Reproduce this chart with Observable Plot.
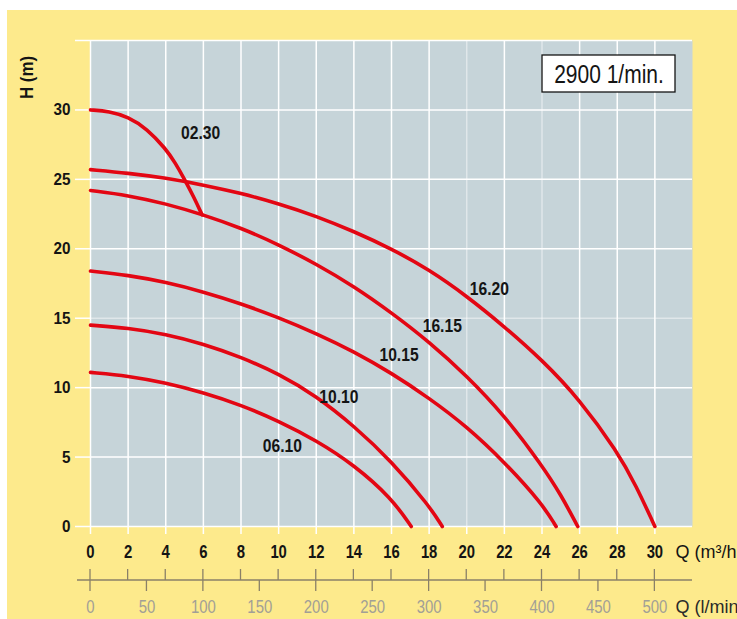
<!DOCTYPE html>
<html><head><meta charset="utf-8">
<script src="https://cdn.jsdelivr.net/npm/d3@7"></script>
<script src="https://cdn.jsdelivr.net/npm/@observablehq/plot@0.6"></script>
<style>
html,body{margin:0;padding:0;background:#fff;overflow:hidden}
#wrap{position:relative;width:737px;height:619px;background:#fdea8c;box-shadow:inset 7px 10px 0 #fff;overflow:hidden}
#wrap svg{background:transparent !important;overflow:hidden !important;display:block}
</style></head><body><div id="wrap"></div>
<script>
// ---- data (Q in m³/h, H in m) ----
const curve0230 = [[0,30],[1,29.9],[2,29.5],[3,28.65],[4,27.2],[4.5,26.2],[5,25.0],[5.5,23.7],[5.93,22.45]];
const curve1620 = [[0,25.7],[2,25.45],[4,25.1],[6,24.6],[8,24.0],[10,23.25],[12,22.35],[14,21.25],[16,20.0],[18,18.5],[20,16.6],[22,14.4],[24,12.0],[26,9.15],[28,5.4],[29,2.95],[30,0]];
const curve1615 = [[0,24.2],[2,23.85],[4,23.25],[6,22.45],[8,21.5],[10,20.3],[12,18.9],[14,17.3],[16,15.4],[18,13.3],[20,10.85],[22,8.0],[24,4.4],[25,2.3],[25.9,0]];
const curve1015 = [[0,18.4],[2,18.1],[4,17.6],[6,16.9],[8,16.05],[10,15.05],[12,13.9],[14,12.6],[16,11.05],[18,9.25],[20,7.2],[22,4.65],[24,1.65],[24.75,0]];
const curve1010 = [[0,14.5],[2,14.3],[4,13.85],[6,13.15],[8,12.2],[10,11.0],[12,9.4],[14,7.25],[16,4.7],[18,1.5],[18.7,0]];
const curve0610 = [[0,11.1],[2,10.85],[4,10.35],[6,9.65],[8,8.75],[10,7.6],[12,6.2],[14,4.45],[16,2.05],[17.05,0]];

const pumpNames = ["02.30","16.20","16.15","10.15","10.10","06.10"];
const pumpCurves = [curve0230, curve1620, curve1615, curve1015, curve1010, curve0610];
const labelQ = [5.85, 21.2, 18.7, 16.4, 13.2, 10.2];
const labelH = [28.3, 17.1, 14.4, 12.3, 9.3, 5.8];

const qTicks = [0,2,4,6,8,10,12,14,16,18,20,22,24,26,28,30];          // m³/h
const lTicks = [0,50,100,150,200,250,300,350,400,450,500];            // l/min
const hTicks = [0,5,10,15,20,25,30,35];
const gridXFaint = [20,24];
const gridYFaint = [15];
const speedText = "2900 1/min.";
const qLabelTop = "Q (m³/h";
const qLabelBottom = "Q (l/min";
const hLabel = "H (m)";

// ---- build ----
const rows = pumpNames.flatMap((name, i) => pumpCurves[i].map(([q, h]) => ({name, q, h})));
const labels = pumpNames.map((name, i) => ({name, q: labelQ[i], h: labelH[i]}));
const lpm2m3h = 60 / 1000;

const FONT = "'Liberation Sans',Arial,Helvetica,sans-serif";
const RED = "#e30613";
const INK = "#141414";

function extras(index, scales, values, dims) {
  const sx = scales.x;
  const g = d3.create("svg:g");
  const base = dims.height - dims.marginBottom + 54;
  const axisColor = "#8a8068";
  g.append("line")
    .attr("x1", dims.marginLeft - 13).attr("x2", dims.width - dims.marginRight)
    .attr("y1", base).attr("y2", base)
    .attr("stroke", axisColor).attr("stroke-width", 1.3);
  for (const q of qTicks) {
    g.append("line").attr("x1", sx(q)).attr("x2", sx(q))
      .attr("y1", base - 11).attr("y2", base)
      .attr("stroke", axisColor).attr("stroke-width", 1.3);
  }
  for (const l of lTicks) {
    g.append("line").attr("x1", sx(l * lpm2m3h)).attr("x2", sx(l * lpm2m3h))
      .attr("y1", base).attr("y2", base + 11)
      .attr("stroke", axisColor).attr("stroke-width", 1.3);
  }
  const bw = 133, bh = 37;
  g.append("rect")
    .attr("x", dims.width - dims.marginRight - 17 - bw)
    .attr("y", dims.marginTop + 15)
    .attr("width", bw).attr("height", bh)
    .attr("fill", "#fff").attr("stroke", INK).attr("stroke-width", 1.3);
  return g.node();
}

const chart = Plot.plot({
  width: 737,
  height: 619,
  marginLeft: 90,
  marginRight: 45,
  marginTop: 40,
  marginBottom: 93,
  style: {fontFamily: FONT, background: "transparent", overflow: "hidden"},
  x: {domain: [0, 32]},
  y: {domain: [0, 35]},
  marks: [
    Plot.frame({fill: "#c6d4d9", stroke: null}),
    Plot.ruleX(qTicks.filter(d => !gridXFaint.includes(d)), {stroke: "#fff", strokeWidth: 1.5}),
    Plot.ruleX(gridXFaint, {stroke: "#fff", strokeWidth: 1.5, strokeOpacity: 0.45}),
    Plot.ruleY(hTicks.filter(d => !gridYFaint.includes(d)), {stroke: "#fff", strokeWidth: 1.5}),
    Plot.ruleY(gridYFaint, {stroke: "#fff", strokeWidth: 1.5, strokeOpacity: 0.45}),
    Plot.axisY({ticks: hTicks, tickSize: 15, tickPadding: 5, stroke: "#fff", strokeWidth: 1.5,
      fill: INK, fontSize: 17, fontWeight: "bold", label: null, className: "c-ytick",
      tickFormat: d => d === 35 ? "" : d}),
    Plot.axisX({ticks: qTicks, tickSize: 8, tickPadding: 10, stroke: "#fff", strokeWidth: 1.5,
      fill: INK, fontSize: 19, fontWeight: "bold", label: null, className: "c-xtick"}),
    Plot.line(rows, {x: "q", y: "h", z: "name", stroke: RED, strokeWidth: 3.6, curve: "basis"}),
    Plot.text(labels, {x: "q", y: "h", text: "name", fill: INK, fontSize: 18, fontWeight: "bold", className: "c-pump"}),
    extras,
    Plot.text(lTicks, {x: d => d * lpm2m3h, y: 0, dy: 81, text: d => String(d), fill: "#a29f96", fontSize: 18, className: "c-lpm"}),
    Plot.text([qLabelTop], {frameAnchor: "bottom-right", dx: -17, dy: 26, textAnchor: "start", lineAnchor: "middle",
      fontSize: 18, fill: INK}),
    Plot.text([qLabelBottom], {frameAnchor: "bottom-right", dx: -17, dy: 81, textAnchor: "start", lineAnchor: "middle",
      fontSize: 18, fill: "#2a2a2a"}),
    Plot.text([hLabel], {frameAnchor: "top-left", dx: -64, dy: 37, rotate: -90, textAnchor: "middle", lineAnchor: "middle",
      fontSize: 19, fontWeight: "bold", fill: INK, className: "c-hlabel"}),
    Plot.text([speedText], {frameAnchor: "top-right", dx: -83.5, dy: 34, textAnchor: "middle", lineAnchor: "middle",
      fontSize: 25, fill: INK, className: "c-speed"})
  ]
});
document.getElementById("wrap").appendChild(chart);

// narrow the lettering, as in the reference's condensed type
const condense = {"c-ytick": 0.9, "c-xtick": 0.78, "c-pump": 0.87, "c-hlabel": 0.89, "c-speed": 0.84, "c-lpm": 0.83};
for (const [cls, f] of Object.entries(condense)) {
  chart.querySelectorAll(`g.${cls} text`).forEach(t => {
    const w = t.getComputedTextLength();
    if (w > 0) {
      t.setAttribute("textLength", (w * f).toFixed(1));
      t.setAttribute("lengthAdjust", "spacingAndGlyphs");
    }
  });
}
</script>
</body></html>
